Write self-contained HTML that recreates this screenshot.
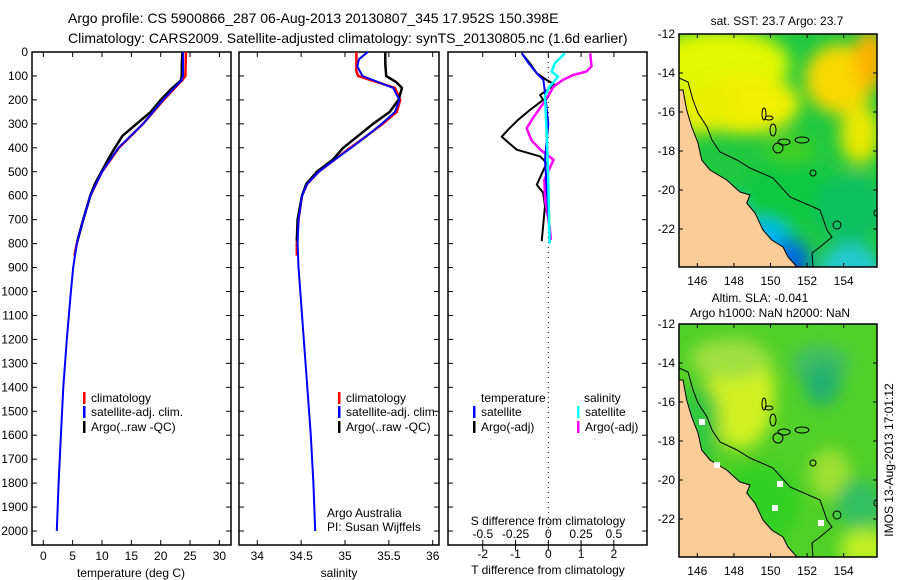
<!DOCTYPE html>
<html><head><meta charset="utf-8">
<style>
html,body{margin:0;padding:0;background:#fff;}
svg{display:block;font-family:"Liberation Sans","DejaVu Sans",sans-serif;}
text{fill:#000;}
</style></head>
<body>
<svg id="fig" width="900" height="580" viewBox="0 0 900 580" xmlns="http://www.w3.org/2000/svg">
<defs>
<filter id="blur1" x="-50%" y="-50%" width="200%" height="200%"><feGaussianBlur stdDeviation="8"/></filter>
<clipPath id="clipM1"><rect x="679" y="34" width="198" height="233"/></clipPath>
<clipPath id="clipM2"><rect x="679" y="324" width="198" height="233"/></clipPath>
</defs>
<text x="68" y="23" font-size="14">Argo profile: CS 5900866_287 06-Aug-2013 20130807_345 17.952S 150.398E</text>
<text x="68" y="43" font-size="14">Climatology: CARS2009. Satellite-adjusted climatology: synTS_20130805.nc (1.6d earlier)</text>
<g id="g"></g>
</svg>
<script>
// ---------- data ----------
const depthTicks = [0,100,200,300,400,500,600,700,800,900,1000,1100,1200,1300,1400,1500,1600,1700,1800,1900,2000];
const tempTicks = [0,5,10,15,20,25,30];
const salTicks = [34,34.5,35,35.5,36];
const dTTicks = [-2,-1,0,1,2];
const dSTicks = [-0.5,-0.25,0,0.25,0.5];
const dSTickLabels = ["-0.5","-0.25","0","0.25","0.5"];

const tClimDepth = [0,100,120,200,300,400,500,600,700,800,850];
const tClimVal   = [24.3,24.2,23.6,20.5,17.0,12.9,10.0,8.0,6.8,5.7,5.3];
const tSatDepth  = [0,100,120,200,300,400,500,600,700,800,900,1000,1200,1400,1600,1800,2000];
const tSatVal    = [23.8,23.8,23.5,20.4,17.0,12.8,10.0,8.0,6.8,5.7,5.1,4.7,4.0,3.4,3.0,2.6,2.3];
const tArgoDepth = [0,50,100,120,150,200,250,300,350,400,450,500,550,600,700,790];
const tArgoVal   = [23.7,23.6,23.6,23.4,22.0,20.0,18.3,15.9,13.5,12.2,11.0,9.9,8.8,8.0,6.8,5.8];

const sClimDepth = [0,80,100,150,200,250,300,350,400,450,500,550,600,700,800,850];
const sClimVal   = [35.13,35.13,35.15,35.57,35.63,35.59,35.43,35.25,35.06,34.88,34.70,34.57,34.51,34.47,34.45,34.45];
const sSatDepth  = [0,30,60,100,150,200,250,300,350,400,450,500,550,600,700,800,900,1000,1200,1400,1600,1800,2000];
const sSatVal    = [35.26,35.16,35.14,35.2,35.55,35.62,35.57,35.42,35.25,35.07,34.88,34.70,34.57,34.51,34.47,34.46,34.47,34.49,34.53,34.57,34.61,34.64,34.66];
const sArgoDepth = [0,50,100,125,150,200,250,300,350,400,450,500,550,600,700,790];
const sArgoVal   = [35.46,35.46,35.47,35.58,35.65,35.61,35.51,35.32,35.15,34.98,34.86,34.68,34.56,34.51,34.46,34.45];

const dTSatDepth = [5,47,89,117,170,300,450,790];
const dTSatVal   = [-0.81,-0.6,-0.35,-0.15,-0.1,0,-0.1,0.05];
const dTArgoDepth = [5,47,89,117,137,179,200,242,283,325,354,408,436,463,554,588,644,790];
const dTArgoVal   = [-0.81,-0.56,-0.35,-0.05,0.2,-0.25,-0.16,-0.56,-0.92,-1.23,-1.42,-0.96,-0.25,-0.05,-0.35,-0.16,-0.1,-0.2];
const dSSatDepth = [5,47,82,103,145,185,370,535,800];
const dSSatVal   = [0.127,0.05,0.026,0.075,0.01,-0.025,-0.01,0,0.01];
const dSArgoDepth = [5,60,82,96,117,145,193,270,318,368,408,450,533,617,728,785];
const dSArgoVal   = [0.32,0.33,0.29,0.19,0.11,0.04,-0.01,-0.11,-0.165,-0.13,-0.06,0.04,-0.03,-0.025,0.01,0.02];

const latTicks = [-12,-14,-16,-18,-20,-22];
const lonTicks = [146,148,150,152,154];

// ---------- helpers ----------
const NS="http://www.w3.org/2000/svg";
const G=document.getElementById('g');
function mk(tag,attrs,parent){const e=document.createElementNS(NS,tag);for(const k in attrs)e.setAttribute(k,attrs[k]);(parent||G).appendChild(e);return e;}
const yD = d => 52 + d*0.2395;
const PT = {x0:32,x1:231}, PS={x0:239,x1:439}, PD={x0:448,x1:647};
const pTop=52,pBot=545;
const xT = v => 43.3 + v*5.87;
const xS = v => 257.3 + (v-34)*87.7;
const xdT = v => 548.3 + v*32.8;
const xdS = v => 548.3 + v*131;

function frame(p,name){
  const r=mk('rect',{x:p.x0,y:pTop,width:p.x1-p.x0,height:pBot-pTop,fill:'none',stroke:'#000','stroke-width':1.5});
  
  
  depthTicks.forEach(d=>{const y=yD(d);
    mk('line',{x1:p.x0,x2:p.x0+5,y1:y,y2:y,stroke:'#000'});
    mk('line',{x1:p.x1-5,x2:p.x1,y1:y,y2:y,stroke:'#000'});});
}
function line(xf,depths,vals,color,w,name){
  const pts=depths.map((d,i)=>xf(vals[i]).toFixed(1)+','+yD(d).toFixed(1)).join(' ');
  const e=mk('polyline',{points:pts,fill:'none',stroke:color,'stroke-width':w,'stroke-linejoin':'round'});
  
  
}
function txt(x,y,s,size,anchor,name){
  const e=mk('text',{x:x,y:y,'font-size':size,'text-anchor':anchor||'start'});
  e.textContent=s;
  
  
  return e;
}

// ---------- panel 1: temperature ----------
frame(PT,'temperature-panel');
depthTicks.forEach(d=>txt(28,yD(d)+4,String(d),12,'end','depth-tick-label'));
tempTicks.forEach(v=>{const x=xT(v);
  mk('line',{x1:x,x2:x,y1:pBot,y2:pBot-5,stroke:'#000'});mk('line',{x1:x,x2:x,y1:pTop,y2:pTop+5,stroke:'#000'});
  txt(x,560,String(v),12,'middle','temperature-tick-label');});
txt(131,577,'temperature (deg C)',12,'middle','temperature-axis-title');
line(xT,tClimDepth,tClimVal,'#f00',2.5,'temperature-climatology-line');
line(xT,tArgoDepth,tArgoVal,'#000',2.5,'temperature-argo-line');
line(xT,tSatDepth,tSatVal,'#00f',2,'temperature-satellite-line');

// ---------- panel 2: salinity ----------
frame(PS,'salinity-panel');
salTicks.forEach(v=>{const x=xS(v);
  mk('line',{x1:x,x2:x,y1:pBot,y2:pBot-5,stroke:'#000'});mk('line',{x1:x,x2:x,y1:pTop,y2:pTop+5,stroke:'#000'});
  txt(x,560,String(v),12,'middle','salinity-tick-label');});
txt(339,577,'salinity',12,'middle','salinity-axis-title');
line(xS,sClimDepth,sClimVal,'#f00',2.5,'salinity-climatology-line');
line(xS,sArgoDepth,sArgoVal,'#000',2.5,'salinity-argo-line');
line(xS,sSatDepth,sSatVal,'#00f',2,'salinity-satellite-line');
txt(327,517,'Argo Australia',12,'start','credit-argo-australia');
txt(327,531,'PI: Susan Wijffels',12,'start','credit-pi');

// ---------- panel 3: differences ----------
frame(PD,'difference-panel');
mk('line',{x1:548.3,x2:548.3,y1:pTop,y2:pBot,stroke:'#000','stroke-dasharray':'1,4'});
dTTicks.forEach(v=>{const x=xdT(v);
  mk('line',{x1:x,x2:x,y1:pBot,y2:pBot+5,stroke:'#000'});mk('line',{x1:x,x2:x,y1:pTop,y2:pTop+5,stroke:'#000'});
  txt(x,558,String(v),12,'middle','t-diff-tick-label');});
dSTicks.forEach((v,i)=>{const x=xdS(v);
  mk('line',{x1:x,x2:x,y1:pBot,y2:pBot-5,stroke:'#000'});
  txt(x,538,dSTickLabels[i],12,'middle','s-diff-tick-label');});
txt(548,525,'S difference from climatology',12,'middle','s-diff-axis-title');
txt(548,574,'T difference from climatology',12,'middle','t-diff-axis-title');
line(xdT,dTArgoDepth,dTArgoVal,'#000',2,'t-diff-argo-line');
line(xdS,dSArgoDepth,dSArgoVal,'#f0f',2.5,'s-diff-argo-line');
line(xdT,dTSatDepth,dTSatVal,'#00f',2,'t-diff-satellite-line');
line(xdS,dSSatDepth,dSSatVal,'#0ff',2.5,'s-diff-satellite-line');

// ---------- legends ----------
function leg(x,y,color,label,name){
  mk('rect',{x:x,y:y-6,width:2.5,height:12,fill:color});
  txt(x+8,y+4,label,12,'start',name);
}
[[83,'panel1'],[338,'panel2']].forEach(([x,p])=>{
  leg(x,398,'#f00','climatology',p+'-legend-climatology');
  leg(x,412,'#00f','satellite-adj. clim.',p+'-legend-satellite');
  leg(x,427,'#000','Argo(..raw -QC)',p+'-legend-argo');
});
txt(481,402,'temperature',12,'start','legend-temperature-header');
txt(584,402,'salinity',12,'start','legend-salinity-header');
leg(473,412,'#00f','satellite','legend-t-satellite');
leg(473,427,'#000','Argo(-adj)','legend-t-argo');
leg(577,412,'#0ff','satellite','legend-s-satellite');
leg(577,427,'#f0f','Argo(-adj)','legend-s-argo');

// ---------- maps ----------
const lonX = lon => 679 + (lon-145)*18.3;
function mapPanel(y0,clip,blobs,base,name){
  const g=mk('g',{'clip-path':'url(#'+clip+')'});
  
  
  mk('rect',{x:679,y:y0,width:198,height:233,fill:base},g);
  const bg=mk('g',{filter:'url(#blur1)'},g);
  blobs.forEach(b=>mk('ellipse',{cx:b[0],cy:y0+b[1],rx:b[2],ry:b[3],fill:b[4]},bg));
  const land=[[679,90],[683,90],[686.7,110],[691.7,127],[698,143],[701.7,160],[710,170],[726.7,180],[740,192],[750,195],[746.7,203],[755,213],[763,230],[771.7,240],[783,247],[788,257],[797,267],[679,267]];
  mk('polygon',{points:land.map(p=>p[0]+','+(p[1]-34+y0)).join(' '),fill:'#fbcb98',stroke:'#000','stroke-width':1},g);
  const iso=[[679,78],[688,82],[693,100],[698,113],[707,127],[712,140],[720,152],[737,160],[750,168],[773,178],[790,197],[820,210],[827,230],[832,237],[820,247],[812,253],[813,267]];
  mk('polyline',{points:iso.map(p=>p[0]+','+(p[1]-34+y0)).join(' '),fill:'none',stroke:'#000','stroke-width':1},g);
  [[764,114,2,6],[769,118,4,2],[773,130,3,6],[778,148,5,5],[784,142,6,3],[802,140,7,3],[813,173,3,3],[837,225,4,4],[876,213,2,3]].forEach(r=>
    mk('ellipse',{cx:r[0],cy:r[1]-34+y0,rx:r[2],ry:r[3],fill:'none',stroke:'#000','stroke-width':1},g));
  mk('rect',{x:679,y:y0,width:198,height:233,fill:'none',stroke:'#000','stroke-width':1.5});
  latTicks.forEach(l=>{const y=y0+(-12-l)*19.5;
    mk('line',{x1:679,x2:683,y1:y,y2:y,stroke:'#000'});mk('line',{x1:873,x2:877,y1:y,y2:y,stroke:'#000'});
    txt(675,y+4,String(l),12,'end','map-lat-label');});
  lonTicks.forEach(l=>{const x=lonX(l);
    mk('line',{x1:x,x2:x,y1:y0,y2:y0+4,stroke:'#000'});mk('line',{x1:x,x2:x,y1:y0+229,y2:y0+233,stroke:'#000'});
    txt(x,y0+251,String(l),12,'middle','map-lon-label');});
}
mapPanel(34,'clipM1',[
  [720,30,70,35,'#e0f800'],[745,70,55,30,'#f0f000'],[700,75,30,25,'#e8f000'],
  [840,45,35,35,'#f8d800'],[870,25,15,30,'#ffb000'],[860,100,20,30,'#e8e800'],
  [790,160,45,35,'#10c840'],[850,175,35,35,'#10c060'],[790,115,25,15,'#40d020'],
  [720,175,25,15,'#00c8e8'],[760,205,30,20,'#00b8f0'],[790,225,20,20,'#0070e0'],[795,250,15,18,'#0020a0'],
  [850,235,30,25,'#20c8d0']
],'#20c840','sst-map');
txt(777,25,'sat. SST: 23.7 Argo: 23.7',12,'middle','sst-map-title');

mapPanel(324,'clipM2',[
  [740,70,35,55,'#d0f020'],[730,35,40,20,'#a0e040'],[820,40,30,20,'#40c060'],[822,60,18,22,'#20b070'],
  [830,150,20,25,'#a0e030'],[860,180,25,25,'#30c060'],[865,225,25,20,'#c0f020'],
  [760,180,40,40,'#30d020'],[700,100,20,40,'#30c840']
],'#50d028','sla-map');
[[702,422],[780,484],[775,508],[821,523],[717,465]].forEach(p=>{
  const r=mk('rect',{x:p[0]-3,y:p[1]-3,width:6,height:6,fill:'#fff'});
  
  
});
txt(760,302,'Altim. SLA: -0.041',12,'middle','sla-map-title');
txt(770,317,'Argo h1000: NaN h2000: NaN',12,'middle','sla-map-subtitle');

const side=txt(0,0,'IMOS 13-Aug-2013 17:01:12',12,'middle','timestamp-label');
side.setAttribute('transform','translate(893,460) rotate(-90)');
</script>
</body></html>
